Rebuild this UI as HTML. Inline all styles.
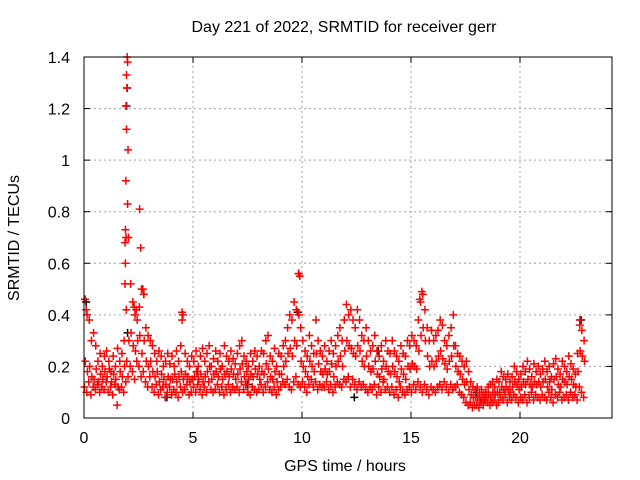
<!DOCTYPE html>
<html><head><meta charset="utf-8"><style>
body{margin:0;background:#fff}
svg{display:block;font-family:"Liberation Sans",sans-serif}
</style></head><body>
<svg id="chart" width="640" height="480">
<text x="344" y="32" font-size="16" text-anchor="middle">Day 221 of 2022, SRMTID for receiver gerr</text>
<text x="345" y="471" font-size="16" text-anchor="middle">GPS time / hours</text>
<text transform="translate(19,238) rotate(-90)" font-size="16" text-anchor="middle">SRMTID / TECUs</text>
<g id="grid"></g><g id="ticks"></g><g id="marks"></g>
<rect x="84" y="57" width="528" height="361" fill="none" stroke="#000" stroke-width="1"/>
</svg>
<script>
const xTicks=[0,5,10,15,20];
const yTicks=[0,0.2,0.4,0.6,0.8,1,1.2,1.4];
const yTickLabels=["0","0.2","0.4","0.6","0.8","1","1.2","1.4"];
const step=0.1;
const valsHigh=[0.46,0.40,0.38,0.30,0.33,0.28,0.22,0.25,0.20,0.24,
0.26,0.22,0.18,0.24,0.20,0.27,0.22,0.25,0.30,0.42,
0.70,0.52,0.45,0.40,0.38,0.43,0.50,0.48,0.35,0.32,
0.30,0.28,0.25,0.22,0.26,0.24,0.20,0.22,0.25,0.21,
0.24,0.20,0.26,0.22,0.28,0.40,0.25,0.22,0.20,0.24,
0.22,0.26,0.20,0.24,0.27,0.22,0.25,0.28,0.20,0.23,
0.26,0.22,0.25,0.20,0.28,0.24,0.22,0.26,0.23,0.21,
0.25,0.28,0.30,0.24,0.22,0.20,0.25,0.22,0.26,0.24,
0.20,0.26,0.25,0.30,0.32,0.24,0.22,0.27,0.20,0.25,
0.24,0.28,0.30,0.35,0.40,0.38,0.45,0.42,0.56,0.35,
0.30,0.26,0.24,0.32,0.28,0.25,0.38,0.30,0.26,0.24,
0.28,0.22,0.26,0.30,0.25,0.28,0.32,0.35,0.30,0.38,
0.44,0.40,0.42,0.38,0.35,0.42,0.38,0.32,0.30,0.35,
0.30,0.26,0.28,0.32,0.26,0.24,0.28,0.22,0.30,0.26,
0.25,0.30,0.26,0.24,0.22,0.28,0.25,0.24,0.30,0.28,
0.32,0.30,0.28,0.38,0.45,0.48,0.42,0.35,0.30,0.34,
0.30,0.32,0.34,0.38,0.36,0.30,0.28,0.32,0.35,0.40,
0.28,0.25,0.24,0.22,0.20,0.22,0.18,0.14,0.12,0.11,
0.12,0.10,0.11,0.09,0.10,0.12,0.13,0.14,0.12,0.15,
0.14,0.18,0.16,0.15,0.17,0.14,0.16,0.20,0.18,0.15,
0.17,0.20,0.18,0.22,0.19,0.16,0.21,0.18,0.20,0.17,
0.19,0.22,0.18,0.20,0.16,0.21,0.23,0.19,0.17,0.22,
0.20,0.18,0.24,0.21,0.19,0.17,0.25,0.36,0.34,0.30];
const valsMid=[0.22,0.18,0.20,0.16,0.15,0.19,0.14,0.17,0.15,0.18,
0.16,0.19,0.14,0.17,0.15,0.12,0.18,0.16,0.20,0.22,
0.30,0.33,0.28,0.26,0.30,0.32,0.25,0.30,0.22,0.20,
0.22,0.18,0.16,0.18,0.14,0.17,0.15,0.13,0.16,0.15,
0.15,0.17,0.14,0.16,0.18,0.15,0.17,0.16,0.14,0.15,
0.16,0.18,0.15,0.17,0.14,0.16,0.18,0.20,0.15,0.17,
0.18,0.16,0.19,0.15,0.17,0.18,0.16,0.19,0.17,0.15,
0.17,0.19,0.21,0.16,0.18,0.15,0.17,0.16,0.19,0.17,
0.15,0.18,0.17,0.21,0.19,0.16,0.15,0.18,0.14,0.17,
0.17,0.20,0.22,0.25,0.27,0.24,0.30,0.28,0.40,0.22,
0.20,0.18,0.16,0.22,0.20,0.18,0.25,0.21,0.18,0.17,
0.19,0.17,0.18,0.21,0.16,0.20,0.22,0.24,0.20,0.26,
0.30,0.28,0.27,0.25,0.24,0.28,0.26,0.22,0.20,0.24,
0.20,0.18,0.19,0.22,0.17,0.16,0.19,0.15,0.20,0.18,
0.17,0.20,0.18,0.16,0.14,0.19,0.17,0.15,0.20,0.19,
0.21,0.20,0.19,0.26,0.32,0.35,0.30,0.24,0.20,0.22,
0.20,0.22,0.24,0.26,0.23,0.21,0.19,0.22,0.24,0.28,
0.20,0.18,0.17,0.15,0.13,0.14,0.11,0.09,0.08,0.08,
0.08,0.07,0.08,0.07,0.09,0.09,0.08,0.10,0.09,0.10,
0.10,0.12,0.11,0.12,0.11,0.10,0.12,0.14,0.13,0.11,
0.12,0.14,0.13,0.15,0.13,0.12,0.14,0.13,0.14,0.12,
0.14,0.15,0.12,0.14,0.11,0.15,0.16,0.13,0.12,0.15,
0.14,0.13,0.16,0.15,0.13,0.12,0.18,0.26,0.24,0.22];
const valsLow=[0.12,0.10,0.14,0.09,0.12,0.11,0.13,0.10,0.12,0.11,
0.14,0.10,0.12,0.09,0.13,0.05,0.11,0.12,0.10,0.14,
0.16,0.20,0.18,0.15,0.22,0.20,0.16,0.18,0.14,0.12,
0.16,0.12,0.10,0.13,0.09,0.11,0.12,0.08,0.10,0.12,
0.09,0.11,0.10,0.08,0.12,0.10,0.11,0.13,0.09,0.10,
0.12,0.10,0.13,0.11,0.09,0.12,0.10,0.14,0.11,0.10,
0.11,0.13,0.10,0.12,0.09,0.11,0.13,0.10,0.12,0.11,
0.12,0.10,0.14,0.11,0.13,0.10,0.09,0.12,0.11,0.10,
0.11,0.13,0.10,0.12,0.14,0.11,0.10,0.12,0.09,0.11,
0.12,0.14,0.13,0.15,0.12,0.11,0.14,0.16,0.13,0.12,
0.14,0.12,0.10,0.13,0.15,0.12,0.14,0.11,0.13,0.12,
0.12,0.14,0.11,0.13,0.10,0.12,0.14,0.13,0.12,0.15,
0.14,0.16,0.12,0.15,0.13,0.11,0.14,0.12,0.13,0.11,
0.10,0.12,0.11,0.13,0.09,0.12,0.10,0.14,0.11,0.12,
0.10,0.12,0.09,0.11,0.08,0.12,0.10,0.09,0.11,0.12,
0.10,0.13,0.11,0.14,0.12,0.10,0.13,0.11,0.09,0.12,
0.11,0.10,0.12,0.13,0.11,0.14,0.12,0.10,0.13,0.11,
0.12,0.13,0.10,0.09,0.08,0.06,0.05,0.06,0.04,0.05,
0.05,0.04,0.06,0.05,0.07,0.06,0.05,0.06,0.07,0.05,
0.06,0.08,0.07,0.09,0.06,0.08,0.07,0.09,0.08,0.06,
0.08,0.07,0.09,0.06,0.08,0.10,0.07,0.09,0.08,0.07,
0.09,0.08,0.07,0.10,0.08,0.06,0.09,0.08,0.10,0.07,
0.08,0.09,0.07,0.10,0.08,0.09,0.07,0.12,0.10,0.08];
const spikeTimes=[1.98,2.0,1.95,1.97,1.93,1.95,2.02,1.92,2.0,1.9,1.88,1.93,1.9,1.88,2.55,2.6,2.7,2.75,9.85,9.9,4.5,4.5,15.5,15.4,0.05,22.75,0.1,2.3,2.4];
const spikeVals=[1.40,1.38,1.33,1.28,1.21,1.12,1.04,0.92,0.83,0.73,0.68,0.70,0.60,0.52,0.81,0.66,0.50,0.48,0.56,0.55,0.41,0.38,0.49,0.46,0.46,0.38,0.42,0.43,0.42];
const blackTimes=[1.98,1.95,0.1,2.0,9.8,12.4,3.8,5.2,18.0,22.8,7.5,13.5];
const blackVals=[1.28,1.21,0.45,0.33,0.41,0.08,0.08,0.18,0.10,0.38,0.13,0.26];

const X0=84,X1=612,Y0=418,Y1=57,XMAX=24.22,YMAX=1.4;
const xs=v=>X0+v/XMAX*(X1-X0);
const ys=v=>Y0-v/YMAX*(Y0-Y1);
const NS="http://www.w3.org/2000/svg";
function mk(tag,attrs,parent){const e=document.createElementNS(NS,tag);for(const k in attrs)e.setAttribute(k,attrs[k]);parent.appendChild(e);return e;}
const grid=document.getElementById('grid'),ticks=document.getElementById('ticks'),marks=document.getElementById('marks');
xTicks.forEach(t=>{const x=xs(t);
 if(t>0){const g=mk('line',{x1:x,x2:x,y1:Y0,y2:Y1,stroke:'#a0a0a0','stroke-dasharray':'2,3'},grid);
 
 }
 mk('line',{x1:x,x2:x,y1:Y0,y2:Y0-6,stroke:'#000'},ticks);
 mk('line',{x1:x,x2:x,y1:Y1,y2:Y1+6,stroke:'#000'},ticks);
 const l=mk('text',{x:x,y:Y0+25,'font-size':16,'text-anchor':'middle'},ticks);l.textContent=t;
 
 });
yTicks.forEach((t,i)=>{const y=ys(t);
 if(t>0&&t<YMAX){const g=mk('line',{x1:X0,x2:X1,y1:y,y2:y,stroke:'#a0a0a0','stroke-dasharray':'2,3'},grid);
 
 }
 mk('line',{x1:X0,x2:X0+6,y1:y,y2:y,stroke:'#000'},ticks);
 mk('line',{x1:X1,x2:X1-6,y1:y,y2:y,stroke:'#000'},ticks);
 const l=mk('text',{x:X0-14,y:y+6,'font-size':16,'text-anchor':'end'},ticks);l.textContent=yTickLabels[i];
 
 });
function plus(t,v,col,name){const x=xs(t),y=ys(v);
 const p=mk('path',{d:`M${x-4},${y}h8M${x},${y-4}v8`,stroke:col,'stroke-width':1.5,fill:'none'},marks);
 
 }
blackTimes.forEach((t,i)=>plus(t,blackVals[i],'#000','black-point'));
valsLow.forEach((v,i)=>plus(i*step+0.02,v,'#f00','red-point'));
valsMid.forEach((v,i)=>plus(i*step+0.06,v,'#f00','red-point'));
valsHigh.forEach((v,i)=>plus(i*step+0.04,v,'#f00','red-point'));
spikeTimes.forEach((t,i)=>plus(t,spikeVals[i],'#f00','red-spike-point'));
</script>
</body></html>
